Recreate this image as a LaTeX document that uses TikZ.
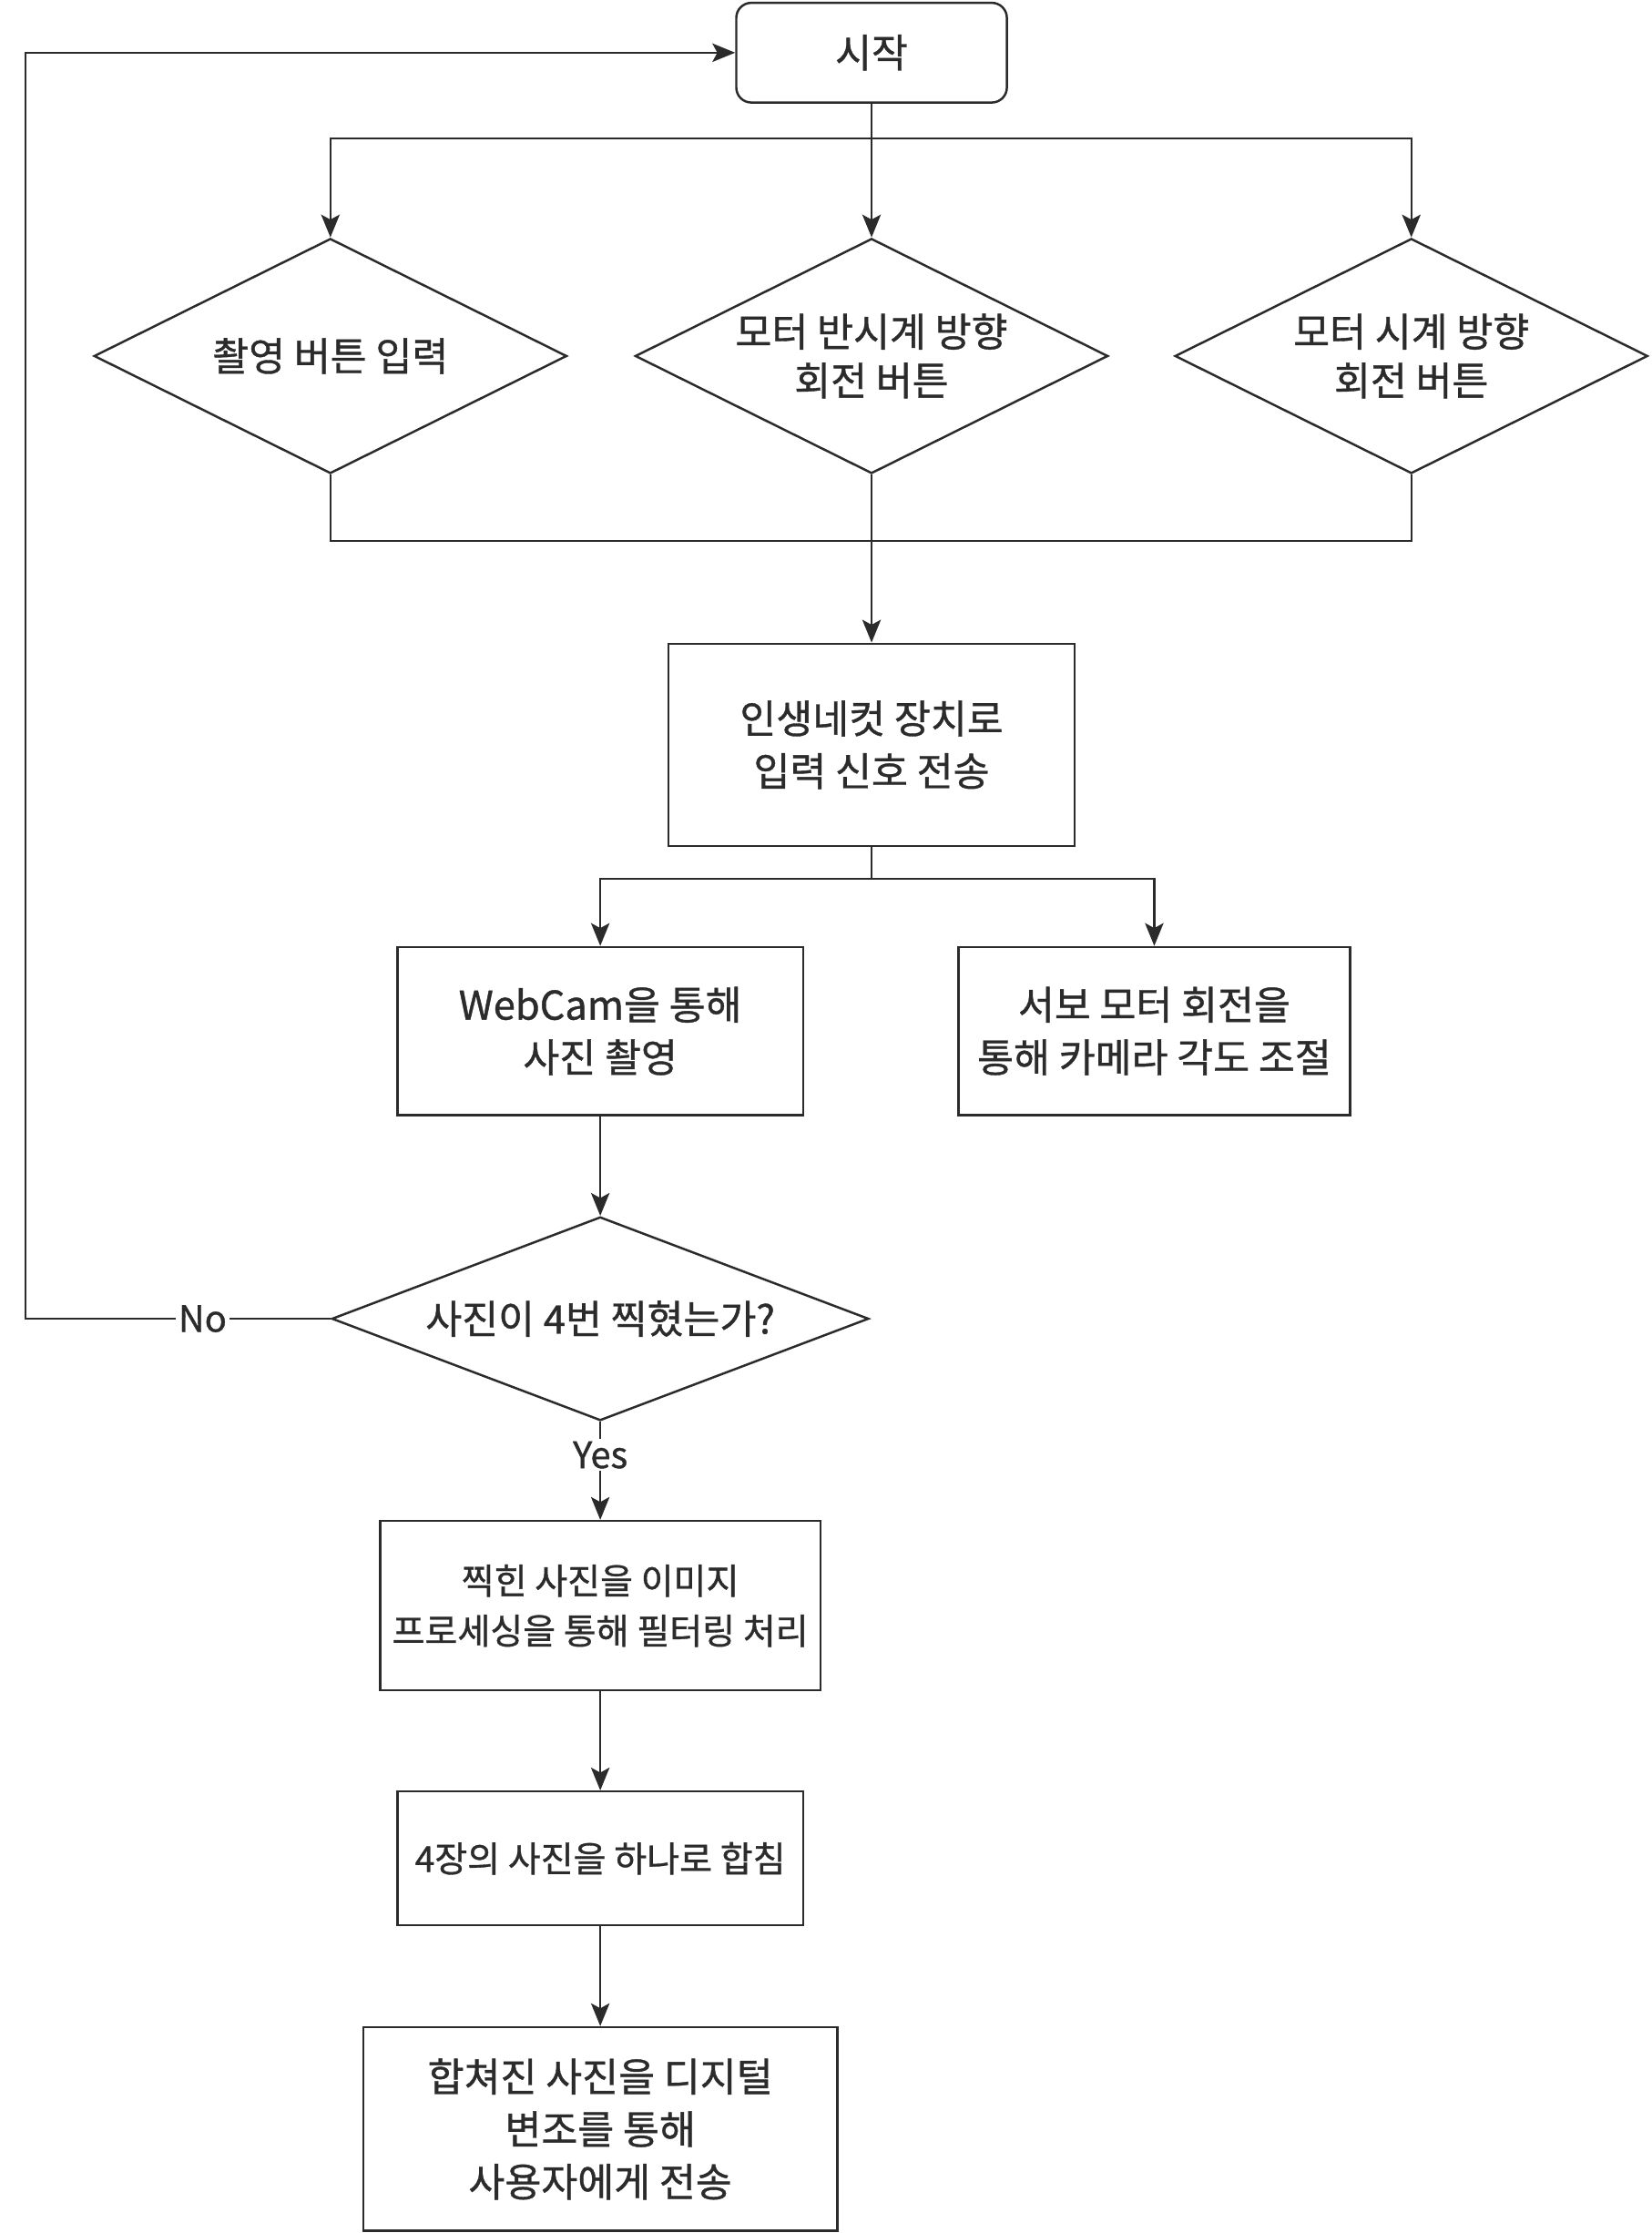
\documentclass[tikz,border=0pt]{standalone}
\usepackage{fontspec}
\setmainfont{Noto Sans CJK KR}[FakeBold=0.9]
\usepackage{tikz}
\usetikzlibrary{shapes.geometric,arrows.meta,positioning}
\definecolor{ink}{HTML}{2B2B2B}

\begin{document}
\begin{tikzpicture}
[line width=0.8pt, draw=ink, text=ink,
box/.style={rectangle, draw=ink, line width=0.9pt, inner sep=0pt, align=center, font=\fontsize{15.8}{21}\selectfont},
smallbox/.style={box, font=\fontsize{14.2}{20}\selectfont},
startbox/.style={box, rounded corners=6pt},
choice/.style={diamond, draw=ink, line width=0.9pt, inner sep=0pt, align=center, font=\fontsize{15.8}{19.5}\selectfont},
flow/.style={draw=ink, -{Stealth[length=0.32cm, width=0.26cm, inset=0.07cm]}},
link/.style={draw=ink},
tag/.style={fill=white, inner sep=1pt, font=\fontsize{14.5}{16}\selectfont}]

\useasboundingbox (0,0) rectangle (23.2,-31.36);

\node[startbox, minimum width=3.8cm, minimum height=1.4cm] (start) at(12.24,-0.74) {시작};

\node[choice, shape aspect=2, minimum width=6.64cm, minimum height=3.3cm] (shoot) at(4.64,-5.0) {촬영 버튼 입력};
\node[choice, shape aspect=2, minimum width=6.64cm, minimum height=3.3cm] (ccw) at(12.24,-5.0) {모터 반시계 방향\\회전 버튼};
\node[choice, shape aspect=2, minimum width=6.64cm, minimum height=3.3cm] (cw) at(19.82,-5.0) {모터 시계 방향\\회전 버튼};

\node[box, minimum width=5.7cm, minimum height=2.84cm] (send) at(12.24,-10.46) {인생네컷 장치로\\입력 신호 전송};

\node[box, minimum width=5.7cm, minimum height=2.36cm] (cam) at(8.43,-14.48) {WebCam을 통해\\사진 촬영};
\node[box, minimum width=5.5cm, minimum height=2.36cm] (servo) at(16.21,-14.48) {서보 모터 회전을\\통해 카메라 각도 조절};

\node[choice, shape aspect=2.64, minimum width=7.54cm, minimum height=2.86cm] (count) at(8.43,-18.52) {사진이 4번 찍혔는가?};

\node[smallbox, minimum width=6.18cm, minimum height=2.38cm] (filter) at(8.43,-22.55) {찍힌 사진을 이미지\\프로세싱을 통해 필터링 처리};
\node[smallbox, minimum width=5.7cm, minimum height=1.88cm] (merge) at(8.43,-26.1) {4장의 사진을 하나로 합침};
\node[box, minimum width=6.66cm, minimum height=2.86cm] (deliver) at(8.43,-29.9) {합쳐진 사진을 디지털\\변조를 통해\\사용자에게 전송};

\coordinate (split1) at(12.24,-1.94);
\coordinate (join1) at(12.24,-7.6);
\coordinate (split2) at(12.24,-12.34);
\coordinate (back) at(0.36,-18.52);

% start -> three buttons
\draw[link] (start.south) -- (split1);
\draw[flow] (split1) -| (shoot.north);
\draw[flow] (split1) -- (ccw.north);
\draw[flow] (split1) -| (cw.north);

% buttons -> signal
\draw[link] (shoot.south) |- (join1);
\draw[link] (cw.south) |- (join1);
\draw[link] (ccw.south) -- (join1);
\draw[flow] (join1) -- (send.north);

\draw[link] (send.south) -- (split2);
\draw[flow] (split2) -| (cam.north);
\draw[flow] (split2) -| (servo.north);

\draw[flow] (cam.south) -- (count.north);
\draw[flow] (count.west) -- node[tag, pos=0.42] {No} (back) |- (start.west);
\draw[flow] (count.south) -- node[tag, pos=0.34] {Yes} (filter.north);
\draw[flow] (filter.south) -- (merge.north);
\draw[flow] (merge.south) -- (deliver.north);
\end{tikzpicture}
\end{document}
